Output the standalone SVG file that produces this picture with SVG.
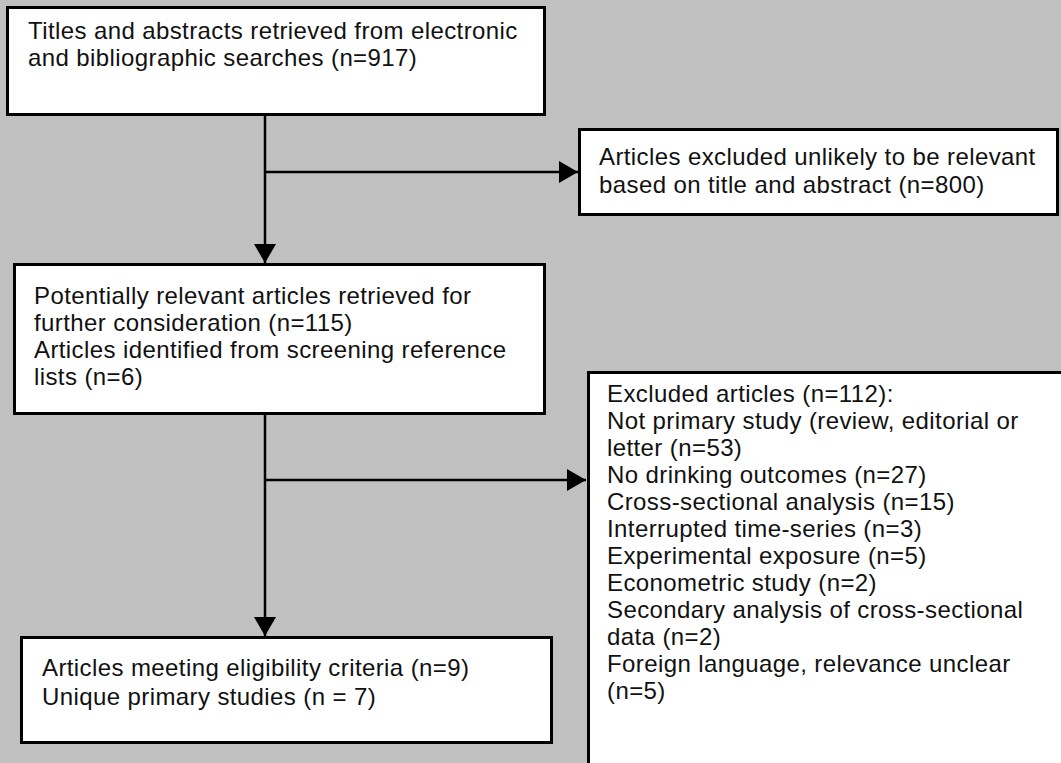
<svg xmlns="http://www.w3.org/2000/svg" width="1061" height="763" viewBox="0 0 1061 763">
<style>
.box{fill:#fff;stroke:#000;stroke-width:3}
.t{font-family:"Liberation Sans",Arial,sans-serif;font-size:24px;letter-spacing:0.4px;fill:#111}
.c{stroke:#000;stroke-width:2.5;fill:none}
</style>
<defs>
<marker id="ah" markerUnits="userSpaceOnUse" markerWidth="20" markerHeight="22" refX="19" refY="11" orient="auto">
<path d="M0,0 L19,11 L0,22 Z" fill="#000"/>
</marker>
</defs>
<rect width="1061" height="763" fill="#c0c0c0"/>
<g id="connectors">
<line class="c" x1="265" y1="114" x2="265" y2="263" marker-end="url(#ah)"/>
<line class="c" x1="265" y1="172" x2="578" y2="172" marker-end="url(#ah)"/>
<line class="c" x1="265" y1="414" x2="265" y2="636" marker-end="url(#ah)"/>
<line class="c" x1="265" y1="480" x2="586" y2="480" marker-end="url(#ah)"/>
</g>
<g id="n1">
<rect class="box" x="7.5" y="7.5" width="537" height="107"/>
<text class="t" x="28" y="39">Titles and abstracts retrieved from electronic</text>
<text class="t" x="28" y="66">and bibliographic searches (n=917)</text>
</g>
<g id="n2">
<rect class="box" x="579.5" y="129.5" width="478" height="85"/>
<text class="t" x="599" y="165">Articles excluded unlikely to be relevant</text>
<text class="t" x="599" y="193">based on title and abstract (n=800)</text>
</g>
<g id="n3">
<rect class="box" x="14.5" y="264.5" width="530" height="149"/>
<text class="t" x="34" y="304">Potentially relevant articles retrieved for</text>
<text class="t" x="34" y="331">further consideration (n=115)</text>
<text class="t" x="34" y="358">Articles identified from screening reference</text>
<text class="t" x="34" y="385">lists (n=6)</text>
</g>
<g id="n4">
<rect class="box" x="21.5" y="637.5" width="530" height="105"/>
<text class="t" x="42" y="676">Articles meeting eligibility criteria (n=9)</text>
<text class="t" x="42" y="705">Unique primary studies (n = 7)</text>
</g>
<g id="n5">
<rect class="box" x="588.5" y="372.5" width="480" height="400"/>
<text class="t" x="607" y="402">Excluded articles (n=112):</text>
<text class="t" x="607" y="429">Not primary study (review, editorial or</text>
<text class="t" x="607" y="456">letter (n=53)</text>
<text class="t" x="607" y="483">No drinking outcomes (n=27)</text>
<text class="t" x="607" y="510">Cross-sectional analysis (n=15)</text>
<text class="t" x="607" y="537">Interrupted time-series (n=3)</text>
<text class="t" x="607" y="564">Experimental exposure (n=5)</text>
<text class="t" x="607" y="591">Econometric study (n=2)</text>
<text class="t" x="607" y="618">Secondary analysis of cross-sectional</text>
<text class="t" x="607" y="645">data (n=2)</text>
<text class="t" x="607" y="672">Foreign language, relevance unclear</text>
<text class="t" x="607" y="699">(n=5)</text>
</g>
</svg>
